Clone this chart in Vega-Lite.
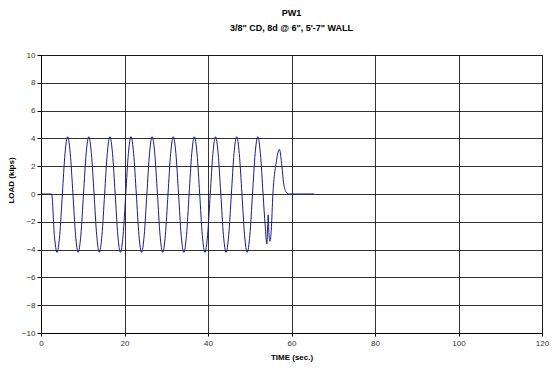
{
  "$schema": "https://vega.github.io/schema/vega-lite/v6.json",
  "width": 501,
  "height": 278,
  "autosize": "none",
  "padding": {"left": 41, "top": 55, "right": 11, "bottom": 37},
  "background": "white",
  "config": {
    "font": "Liberation Sans",
    "view": {"stroke": "#808080", "strokeWidth": 1}
  },
  "title": {
    "text": ["PW1", "3/8\" CD, 8d @ 6\", 5'-7\" WALL"],
    "fontSize": 9,
    "fontWeight": "bold",
    "color": "#000000",
    "lineHeight": 15,
    "anchor": "middle",
    "offset": 18
  },
  "data": {
    "values": [
      {"time": 0, "load": 0}, {"time": 2.55, "load": 0}, {"time": 3.2, "load": -2.97}, {"time": 3.85, "load": -4.2},
      {"time": 4.48, "load": -2.97}, {"time": 5.12, "load": 0}, {"time": 5.75, "load": 2.91}, {"time": 6.38, "load": 4.12},
      {"time": 7.01, "load": 2.91}, {"time": 7.65, "load": 0}, {"time": 8.28, "load": -2.97}, {"time": 8.91, "load": -4.2},
      {"time": 9.54, "load": -2.97}, {"time": 10.18, "load": 0}, {"time": 10.81, "load": 2.91}, {"time": 11.44, "load": 4.12},
      {"time": 12.07, "load": 2.91}, {"time": 12.71, "load": 0}, {"time": 13.34, "load": -2.97}, {"time": 13.97, "load": -4.2},
      {"time": 14.6, "load": -2.97}, {"time": 15.24, "load": 0}, {"time": 15.87, "load": 2.91}, {"time": 16.5, "load": 4.12},
      {"time": 17.13, "load": 2.91}, {"time": 17.77, "load": 0}, {"time": 18.4, "load": -2.97}, {"time": 19.03, "load": -4.2},
      {"time": 19.66, "load": -2.97}, {"time": 20.3, "load": 0}, {"time": 20.93, "load": 2.91}, {"time": 21.56, "load": 4.12},
      {"time": 22.19, "load": 2.91}, {"time": 22.83, "load": 0}, {"time": 23.46, "load": -2.97}, {"time": 24.09, "load": -4.2},
      {"time": 24.72, "load": -2.97}, {"time": 25.36, "load": 0}, {"time": 25.99, "load": 2.91}, {"time": 26.62, "load": 4.12},
      {"time": 27.25, "load": 2.91}, {"time": 27.89, "load": 0}, {"time": 28.52, "load": -2.97}, {"time": 29.15, "load": -4.2},
      {"time": 29.78, "load": -2.97}, {"time": 30.42, "load": 0}, {"time": 31.05, "load": 2.91}, {"time": 31.68, "load": 4.12},
      {"time": 32.31, "load": 2.91}, {"time": 32.95, "load": 0}, {"time": 33.58, "load": -2.97}, {"time": 34.21, "load": -4.2},
      {"time": 34.84, "load": -2.97}, {"time": 35.48, "load": 0}, {"time": 36.11, "load": 2.91}, {"time": 36.74, "load": 4.12},
      {"time": 37.37, "load": 2.91}, {"time": 38.01, "load": 0}, {"time": 38.64, "load": -2.97}, {"time": 39.27, "load": -4.2},
      {"time": 39.9, "load": -2.97}, {"time": 40.54, "load": 0}, {"time": 41.17, "load": 2.91}, {"time": 41.8, "load": 4.12},
      {"time": 42.43, "load": 2.91}, {"time": 43.07, "load": 0}, {"time": 43.7, "load": -2.97}, {"time": 44.33, "load": -4.2},
      {"time": 44.96, "load": -2.97}, {"time": 45.6, "load": 0}, {"time": 46.23, "load": 2.91}, {"time": 46.86, "load": 4.12},
      {"time": 47.49, "load": 2.91}, {"time": 48.13, "load": 0}, {"time": 48.76, "load": -2.97}, {"time": 49.39, "load": -4.2},
      {"time": 50.02, "load": -2.97}, {"time": 50.66, "load": 0}, {"time": 51.29, "load": 2.91}, {"time": 51.92, "load": 4.12},
      {"time": 52.55, "load": 2.91}, {"time": 53.19, "load": 0}, {"time": 53.7, "load": -2.3}, {"time": 54.1, "load": -3.6},
      {"time": 54.3, "load": -2.2}, {"time": 54.42, "load": -1.5}, {"time": 54.6, "load": -2.9}, {"time": 54.85, "load": -3.4},
      {"time": 55.15, "load": -2.6}, {"time": 55.55, "load": 0}, {"time": 56.3, "load": 2.2}, {"time": 57.1, "load": 3.2},
      {"time": 57.7, "load": 2.0}, {"time": 58.1, "load": 0.8}, {"time": 58.6, "load": 0.2}, {"time": 59.3, "load": 0},
      {"time": 65.4, "load": 0}
    ]
  },
  "mark": {"type": "line", "interpolate": "monotone", "color": "#1a1a8c", "strokeWidth": 1},
  "encoding": {
    "x": {
      "field": "time",
      "type": "quantitative",
      "scale": {"domain": [0, 120], "nice": false, "zero": false},
      "axis": {
        "title": "TIME (sec.)",
        "values": [0, 20, 40, 60, 80, 100, 120],
        "titleFontSize": 8,
        "titleFontWeight": "bold",
        "titleColor": "#000000",
        "titlePadding": 6,
        "labelFontSize": 8,
        "labelColor": "#333333",
        "labelPadding": 3,
        "labelFlush": false,
        "tickSize": 3,
        "tickColor": "#000000",
        "domainColor": "#000000",
        "gridColor": "#000000",
        "gridOpacity": 0.8
      }
    },
    "y": {
      "field": "load",
      "type": "quantitative",
      "scale": {"domain": [-10, 10], "nice": false},
      "axis": {
        "title": "LOAD (kips)",
        "values": [-10, -8, -6, -4, -2, 0, 2, 4, 6, 8, 10],
        "titleFontSize": 8,
        "titleFontWeight": "bold",
        "titleColor": "#000000",
        "titleY": 125,
        "titleX": -26,
        "labelFontSize": 8,
        "labelColor": "#333333",
        "labelPadding": 2,
        "labelFlush": false,
        "tickSize": 4,
        "tickColor": "#000000",
        "domainColor": "#000000",
        "gridColor": "#000000",
        "gridOpacity": 0.8
      }
    }
  }
}
